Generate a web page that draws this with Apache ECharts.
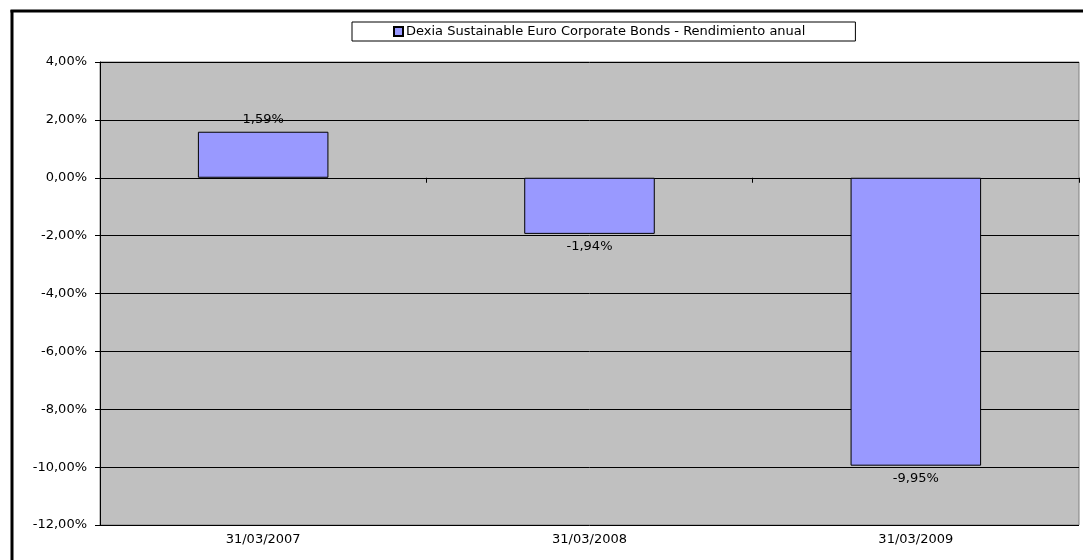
<!DOCTYPE html>
<html>
<head>
<meta charset="utf-8">
<script src="https://cdn.jsdelivr.net/npm/echarts@6/dist/echarts.min.js"></script>
<style>
html,body{margin:0;padding:0;background:#fff;}
#c{width:1083px;height:560px;}
</style>
</head>
<body>
<div id="c"></div>
<script>
var categories = ['31/03/2007', '31/03/2008', '31/03/2009'];
var seriesName = 'Dexia Sustainable Euro Corporate Bonds - Rendimiento anual';
var values = [1.59, -1.94, -9.95];

var FONT = 'DejaVu Sans';
var FS = 13;
function fmt(v) { return v.toFixed(2).replace('.', ',') + '%'; }

var chart = echarts.init(document.getElementById('c'));
chart.setOption({
  backgroundColor: '#fff',
  animation: false,
  textStyle: { fontFamily: FONT, fontSize: FS, color: '#000' },
  grid: {
    left: 100, right: 4, top: 62, bottom: 35,
    show: true, backgroundColor: '#C0C0C0', borderColor: '#808080', borderWidth: 1
  },
  legend: {
    data: [seriesName],
    left: 352, top: 22,
    padding: [3, 50, 3, 41],
    itemWidth: 9, itemHeight: 9, itemGap: 0,
    icon: 'rect',
    backgroundColor: '#fff', borderColor: '#000', borderWidth: 1, borderRadius: 0,
    textStyle: { fontFamily: FONT, fontSize: FS, color: '#000', padding: [0, 0, 0, -2] }
  },
  xAxis: [
    {
      type: 'category', data: categories, position: 'top',
      axisLine: { onZero: true, lineStyle: { color: '#000', width: 1 } },
      axisTick: { show: true, inside: true, length: 5, lineStyle: { color: '#000' } },
      axisLabel: { show: false },
      splitLine: { show: false }
    },
    {
      type: 'category', data: categories, position: 'bottom',
      axisLine: { show: false, onZero: false },
      axisTick: { show: false },
      axisLabel: { show: true, margin: 8, fontFamily: FONT, fontSize: FS, color: '#000' },
      splitLine: { show: false }
    }
  ],
  yAxis: {
    type: 'value', min: -12, max: 4, interval: 2,
    axisLine: { show: true, lineStyle: { color: '#000', width: 1 } },
    axisTick: { show: true, length: 5, lineStyle: { color: '#000' } },
    axisLabel: { margin: 13, formatter: fmt, fontFamily: FONT, fontSize: FS, color: '#000' },
    splitLine: { show: true, lineStyle: { color: '#000', width: 1 } }
  },
  series: [{
    name: seriesName,
    type: 'bar',
    xAxisIndex: 0,
    data: values,
    barWidth: '40%',
    itemStyle: { color: '#9999FF', borderColor: '#000', borderWidth: 1 },
    label: {
      show: true,
      position: 'outside',
      distance: 6,
      formatter: function (p) { return fmt(p.value); },
      fontFamily: FONT, fontSize: FS, color: '#000'
    }
  }],
  graphic: [
    { type: 'line', shape: { x1: 12, y1: 10, x2: 12, y2: 560 }, style: { stroke: '#000', lineWidth: 3 } },
    { type: 'line', shape: { x1: 10.5, y1: 11, x2: 1083, y2: 11 }, style: { stroke: '#000', lineWidth: 3 } }
  ]
});
</script>
</body>
</html>
